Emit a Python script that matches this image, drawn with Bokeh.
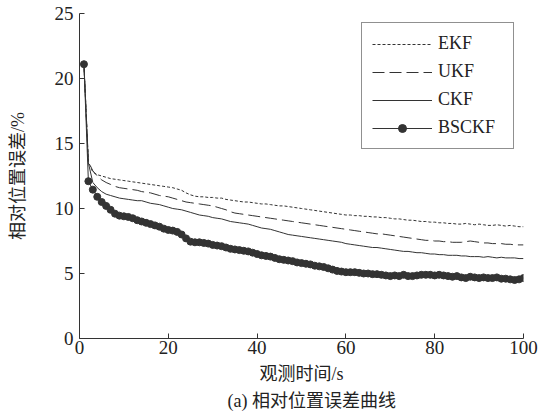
from bokeh.plotting import figure
from bokeh.models import Range1d, Legend, LegendItem, Title, FixedTicker
from bokeh.embed import file_html
from bokeh.resources import INLINE

t = list(range(1, 101))

ekf = [21.1, 13.6, 12.8, 12.6, 12.5, 12.4, 12.3, 12.25, 12.2, 12.15,
       12.1, 12.05, 12.0, 11.95, 11.9, 11.85, 11.8, 11.75, 11.7, 11.65,
       11.6, 11.5, 11.4, 11.2, 11.05, 10.95, 10.9, 10.9, 10.85, 10.85,
       10.8, 10.8, 10.7, 10.65, 10.6, 10.55, 10.5, 10.5, 10.45, 10.4,
       10.35, 10.35, 10.3, 10.25, 10.2, 10.2, 10.15, 10.1, 10.05, 10.0,
       9.95, 9.9, 9.85, 9.8, 9.75, 9.7, 9.65, 9.6, 9.55, 9.5,
       9.5, 9.45, 9.45, 9.4, 9.4, 9.35, 9.35, 9.3, 9.3, 9.25,
       9.2, 9.2, 9.15, 9.1, 9.1, 9.05, 9.0, 9.0, 8.95, 8.95,
       8.9, 8.9, 8.85, 8.85, 8.8, 8.8, 8.85, 8.8, 8.75, 8.8,
       8.75, 8.7, 8.7, 8.75, 8.7, 8.65, 8.7, 8.65, 8.6, 8.6]

ukf = [21.1, 13.6, 12.9, 12.5, 12.2, 12.0, 11.85, 11.7, 11.6, 11.55,
       11.5, 11.45, 11.4, 11.3, 11.25, 11.2, 11.1, 11.0, 10.95, 10.9,
       10.8, 10.7, 10.6, 10.5, 10.45, 10.4, 10.35, 10.3, 10.25, 10.2,
       10.1, 10.0, 9.9, 9.75, 9.65, 9.6, 9.55, 9.5, 9.45, 9.4,
       9.35, 9.3, 9.25, 9.2, 9.15, 9.1, 9.05, 9.0, 8.95, 8.9,
       8.85, 8.8, 8.75, 8.7, 8.65, 8.6, 8.55, 8.5, 8.45, 8.4,
       8.35, 8.3, 8.25, 8.2, 8.15, 8.1, 8.05, 8.05, 8.0, 7.95,
       7.9, 7.85, 7.8, 7.75, 7.7, 7.65, 7.6, 7.55, 7.55, 7.5,
       7.5, 7.45, 7.45, 7.4, 7.4, 7.4, 7.45, 7.5, 7.45, 7.4,
       7.35, 7.35, 7.3, 7.3, 7.3, 7.25, 7.25, 7.2, 7.2, 7.2]

ckf = [21.1, 13.5, 12.0, 11.6, 11.3, 11.1, 11.0, 10.9, 10.8, 10.75,
       10.7, 10.65, 10.6, 10.6, 10.5, 10.4, 10.35, 10.3, 10.2, 10.1,
       10.0, 9.95, 9.9, 9.8, 9.7, 9.6, 9.5, 9.45, 9.4, 9.3,
       9.25, 9.2, 9.1, 9.0, 8.95, 8.9, 8.85, 8.8, 8.7, 8.6,
       8.5, 8.45, 8.4, 8.3, 8.2, 8.1, 8.0, 7.95, 7.9, 7.85,
       7.8, 7.75, 7.7, 7.65, 7.6, 7.55, 7.5, 7.45, 7.4, 7.3,
       7.25, 7.2, 7.15, 7.1, 7.05, 7.0, 7.0, 6.95, 6.9, 6.85,
       6.8, 6.75, 6.7, 6.7, 6.65, 6.6, 6.6, 6.55, 6.5, 6.5,
       6.45, 6.45, 6.4, 6.4, 6.4, 6.35, 6.35, 6.3, 6.3, 6.3,
       6.25, 6.3, 6.25, 6.2, 6.25, 6.2, 6.2, 6.2, 6.15, 6.15]

bsckf = [21.1, 12.1, 11.45, 10.9, 10.5, 10.2, 9.9, 9.6, 9.45, 9.4,
         9.35, 9.25, 9.1, 9.0, 8.9, 8.8, 8.7, 8.6, 8.45, 8.35,
         8.3, 8.2, 8.0, 7.7, 7.45, 7.4, 7.4, 7.35, 7.3, 7.2,
         7.15, 7.1, 7.0, 6.9, 6.85, 6.8, 6.75, 6.7, 6.6, 6.5,
         6.4, 6.35, 6.3, 6.2, 6.1, 6.05, 6.0, 5.95, 5.85, 5.8,
         5.75, 5.7, 5.6, 5.55, 5.5, 5.4, 5.3, 5.2, 5.15, 5.1,
         5.1, 5.1, 5.05, 5.0, 5.0, 4.95, 4.95, 4.9, 4.85, 4.8,
         4.85, 4.8, 4.9, 4.8, 4.8, 4.85, 4.9, 4.9, 4.9, 4.85,
         4.9, 4.85, 4.8, 4.75, 4.8, 4.7, 4.65, 4.75, 4.7, 4.65,
         4.7, 4.65, 4.65, 4.7, 4.6, 4.6, 4.55, 4.5, 4.55, 4.65]

x_ticks = [0, 20, 40, 60, 80, 100]
y_ticks = [0, 5, 10, 15, 20, 25]

SERIF = "Liberation Serif"
MIXED = "Liberation Serif, Noto Sans CJK SC"
INK = "#333333"
TXT = "#222222"

p = figure(width=540, height=414, x_range=Range1d(0, 100), y_range=Range1d(0, 25),
           output_backend="svg", toolbar_location=None,
           min_border_left=79, min_border_right=17, min_border_top=13, min_border_bottom=76)
p.outline_line_color = None
p.xgrid.visible = False
p.ygrid.visible = False
p.background_fill_color = "white"
p.border_fill_color = "white"

for ax in (p.xaxis[0], p.yaxis[0]):
    ax.major_tick_in = 5
    ax.major_tick_out = 0
    ax.minor_tick_line_color = None
    ax.axis_line_color = INK
    ax.major_tick_line_color = INK
    ax.major_label_text_font = SERIF
    ax.major_label_text_font_size = "19px"
    ax.major_label_text_color = TXT
    ax.axis_label_text_font = MIXED
    ax.axis_label_text_font_size = "18px"
    ax.axis_label_text_font_style = "normal"
    ax.axis_label_text_color = TXT

p.xaxis.ticker = FixedTicker(ticks=x_ticks)
p.yaxis.ticker = FixedTicker(ticks=y_ticks)
p.xaxis.major_label_standoff = 2
p.yaxis.major_label_standoff = 6
p.xaxis.axis_label = "观测时间/s"
p.yaxis.axis_label = "相对位置误差/%"
p.xaxis.axis_label_standoff = 7
p.yaxis.axis_label_standoff = 24

r_ekf = p.line(t, ekf, line_color=INK, line_width=1, line_dash="3 2")
r_ukf = p.line(t, ukf, line_color=INK, line_width=1, line_dash="12 5")
r_ckf = p.line(t, ckf, line_color=INK, line_width=1)
r_bl = p.line(t, bsckf, line_color=INK, line_width=1)
r_bs = p.scatter(t, bsckf, size=7, fill_color=INK, line_color=INK)

legend = Legend(items=[
    LegendItem(label="EKF", renderers=[r_ekf]),
    LegendItem(label="UKF", renderers=[r_ukf]),
    LegendItem(label="CKF", renderers=[r_ckf]),
    LegendItem(label="BSCKF", renderers=[r_bl, r_bs]),
], location="top_right")
legend.margin = 9
legend.padding = 10
legend.spacing = 7
legend.glyph_width = 60
legend.glyph_height = 20
legend.label_height = 20
legend.label_width = 65
legend.label_standoff = 6
legend.label_text_font = SERIF
legend.label_text_font_size = "18px"
legend.label_text_color = TXT
legend.border_line_color = TXT
legend.border_line_width = 1
legend.background_fill_alpha = 1
p.add_layout(legend)

cap = Title(text="(a) 相对位置误差曲线", align="left", text_font=MIXED,
            text_font_size="18px", text_font_style="normal", text_color=TXT,
            offset=148, standoff=5)
p.add_layout(cap, "below")

open("out.html", "w").write(file_html(p, INLINE))
